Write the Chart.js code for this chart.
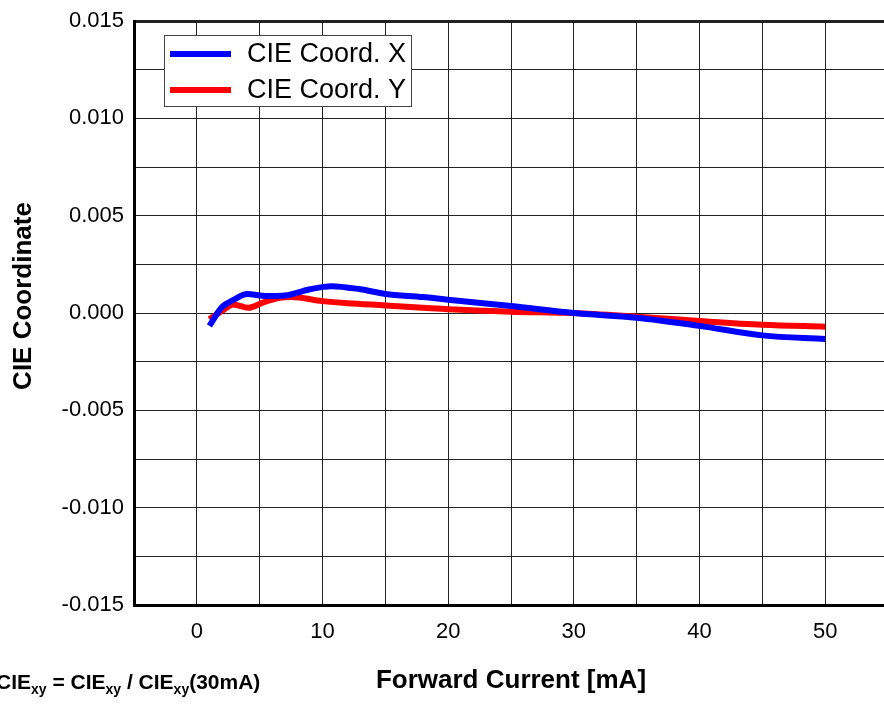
<!DOCTYPE html>
<html>
<head>
<meta charset="utf-8">
<script src="https://cdn.jsdelivr.net/npm/chart.js@4"></script>
<style>
    html, body { margin: 0; padding: 0; background: #fff; overflow: hidden; }
    #chartBox { width: 902px; height: 705px; }
</style>
</head>
<body>
<div id="chartBox"><canvas id="cieChart" width="902" height="705"></canvas></div>
<script>
// Forward current [mA] and delta CIE coordinates
const currentX = [1, 2, 3, 4, 5.5, 7, 9, 10.7, 13, 15, 18, 20, 25, 30, 35, 40, 45, 50];
const deltaX = [-0.00066, 0.0003, 0.0007, 0.00098, 0.00087, 0.0009, 0.00122, 0.00138, 0.00122, 0.00098, 0.00082, 0.00068, 0.00036, 0.0, -0.00024, -0.00066, -0.00115, -0.00134];

const currentY = [1, 2, 2.9, 4.1, 5.3, 6.6, 7.5, 10, 12, 15, 18, 20, 25, 30, 35, 40, 45, 50];
const deltaY = [-0.00032, 0.0001, 0.00044, 0.00027, 0.00055, 0.00078, 0.00082, 0.00061, 0.0005, 0.00039, 0.00027, 0.00019, 0.00007, 0.0, -0.00019, -0.00041, -0.0006, -0.0007];

const seriesLabels = ['CIE Coord. X', 'CIE Coord. Y'];
const seriesColors = ['#0000ff', '#ff0000'];

const xTickLabels = [0, 10, 20, 30, 40, 50];
const yTickLabels = [-0.015, -0.01, -0.005, 0, 0.005, 0.01, 0.015];

const FONT = '"Liberation Sans", Arial, sans-serif';

function toPoints(xs, ys) {
    return xs.map((x, i) => ({ x: x, y: ys[i] }));
}

// legend box, y title and bottom-left formula note
const extrasPlugin = {
    id: 'extras',
    afterDraw(chart) {
        const ctx = chart.ctx;
        const area = chart.chartArea;
        ctx.save();

        // legend
        const bx = area.left + 30, by = area.top + 14, bw = 247, bh = 71;
        ctx.fillStyle = '#fff';
        ctx.fillRect(bx, by, bw, bh);
        ctx.strokeStyle = '#444';
        ctx.lineWidth = 1;
        ctx.strokeRect(bx + 0.5, by + 0.5, bw, bh);
        chart.data.datasets.forEach((ds, i) => {
            const y = by + 19 + i * 36;
            ctx.strokeStyle = ds.borderColor;
            ctx.lineWidth = 6;
            ctx.beginPath();
            ctx.moveTo(bx + 6, y);
            ctx.lineTo(bx + 67, y);
            ctx.stroke();
            ctx.fillStyle = '#000';
            ctx.font = '27px ' + FONT;
            ctx.textBaseline = 'middle';
            ctx.fillText(ds.label, bx + 83, y + 1);
        });

        // y axis title
        ctx.save();
        ctx.translate(24, 296);
        ctx.rotate(-Math.PI / 2);
        ctx.fillStyle = '#000';
        ctx.font = 'bold 26px ' + FONT;
        ctx.textAlign = 'center';
        ctx.textBaseline = 'middle';
        ctx.fillText('CIE Coordinate', 0, 0);
        ctx.restore();

        // formula note
        const base = 689;
        const parts = [
            ['\u0394CIE', 21, 0], ['xy', 14, 5], [' = CIE', 21, 0], ['xy', 14, 5],
            [' / CIE', 21, 0], ['xy', 14, 5], ['(30mA)', 21, 0]
        ];
        ctx.font = 'bold 21px ' + FONT;
        let x = -4 - ctx.measureText('\u0394').width;
        ctx.fillStyle = '#000';
        ctx.textBaseline = 'alphabetic';
        ctx.textAlign = 'left';
        parts.forEach(p => {
            ctx.font = 'bold ' + p[1] + 'px ' + FONT;
            ctx.fillText(p[0], x, base + p[2]);
            x += ctx.measureText(p[0]).width;
        });
        ctx.restore();
    }
};

const config = {
    type: 'line',
    data: {
        datasets: [{
            label: seriesLabels[0],
            data: toPoints(currentX, deltaX),
            borderColor: seriesColors[0],
            borderWidth: 6,
            pointRadius: 0,
            fill: false,
            cubicInterpolationMode: 'monotone'
        }, {
            label: seriesLabels[1],
            data: toPoints(currentY, deltaY),
            borderColor: seriesColors[1],
            borderWidth: 6,
            pointRadius: 0,
            fill: false,
            cubicInterpolationMode: 'monotone'
        }]
    },
    options: {
        responsive: false,
        animation: false,
        layout: { padding: { left: 0, right: 6, top: 0, bottom: 6 } },
        plugins: {
            legend: { display: false },
            tooltip: { enabled: false }
        },
        scales: {
            x: {
                type: 'linear',
                min: -5,
                max: 55,
                afterFit(scale) { scale.height = 94; },
                border: { display: true, color: '#000', width: 3 },
                grid: { color: '#222', lineWidth: 1, drawTicks: false },
                ticks: {
                    stepSize: 5,
                    padding: 14,
                    color: '#000',
                    font: { family: FONT, size: 22 },
                    maxRotation: 0,
                    autoSkip: false,
                    callback: v => xTickLabels.includes(v) ? String(v) : ''
                },
                title: {
                    display: true,
                    text: 'Forward Current [mA]',
                    color: '#000',
                    font: { family: FONT, size: 26, weight: 'bold' },
                    padding: { top: 0, bottom: 3 }
                }
            },
            y: {
                min: -0.015,
                max: 0.015,
                afterFit(scale) { scale.width = 134; },
                border: { display: true, color: '#000', width: 3 },
                grid: {
                    color: '#222',
                    drawTicks: false,
                    lineWidth: c => (c.tick && Math.abs(c.tick.value - 0.015) < 1e-9) ? 3 : 1
                },
                ticks: {
                    stepSize: 0.0025,
                    padding: 10,
                    color: '#000',
                    font: { family: FONT, size: 22, lineHeight: 1 },
                    autoSkip: false,
                    callback: v => {
                        const hit = yTickLabels.find(t => Math.abs(t - v) < 1e-9);
                        return hit === undefined ? '' : hit.toFixed(3);
                    }
                }
            }
        }
    },
    plugins: [extrasPlugin]
};

new Chart(document.getElementById('cieChart'), config);
</script>
</body>
</html>
